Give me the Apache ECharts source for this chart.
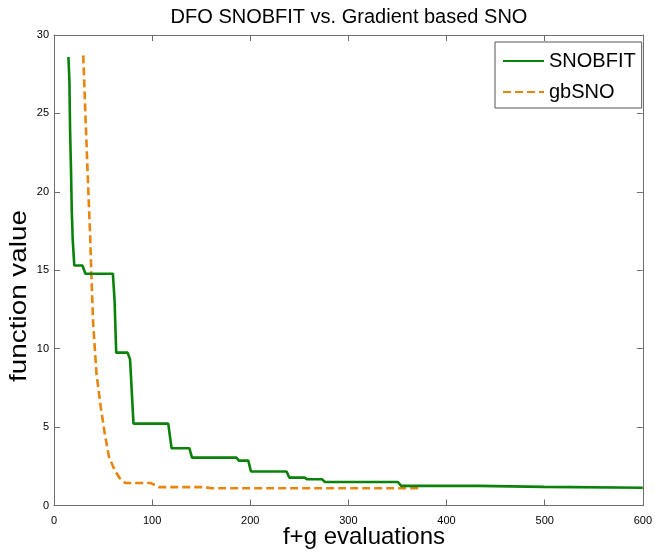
<!DOCTYPE html>
<html>
<head>
<meta charset="utf-8">
<script src="https://cdn.jsdelivr.net/npm/echarts@6/dist/echarts.min.js"></script>
<style>
  html, body { margin: 0; padding: 0; background: #fff; }
  #chart { width: 655px; height: 555px; }
</style>
</head>
<body>
<div id="chart"></div>
<script>
// Best function value found so far, plotted against the number of f+g evaluations.
const titleText = 'DFO SNOBFIT vs. Gradient based SNO';
const xAxisLabel = 'f+g evaluations';
const yAxisLabel = 'function value';
const seriesNames = ['SNOBFIT', 'gbSNO'];

const xTicks = [0, 100, 200, 300, 400, 500, 600];
const yTicks = [0, 5, 10, 15, 20, 25, 30];

// SNOBFIT: derivative-free run (evaluations, value)
const snobfitEvals = [14.7, 15.7, 16.4, 17.4, 18.1, 19.1, 20.7, 29, 32, 60, 61.7, 63.4, 75, 77.5, 81,
  116.4, 119.8, 138, 140.6, 186, 188.3, 198, 200.7, 237, 239.7, 255.4, 258, 273.2, 276,
  350.4, 353.8, 432.6, 434.3, 499, 500.5, 600];
const snobfitValues = [28.6, 27.1, 23.9, 21.2, 18.8, 16.9, 15.3, 15.3, 14.78, 14.78, 13.1, 9.75, 9.75, 9.32, 5.22,
  5.22, 3.65, 3.65, 3.05, 3.05, 2.86, 2.86, 2.17, 2.17, 1.78, 1.78, 1.67, 1.67, 1.5,
  1.5, 1.25, 1.25, 1.19, 1.19, 1.15, 1.13];

// gbSNO: gradient based run (evaluations, value)
const gbsnoEvals = [29.8, 32.2, 35.2, 36.9, 37.9, 39.9, 43.3, 47.6, 51.7, 56, 61.7, 66.8, 72.8,
  98.7, 107, 154, 160, 371.6];
const gbsnoValues = [28.7, 24.6, 19.7, 17.1, 15, 11.6, 8.4, 6.3, 4.6, 3.1, 2.27, 1.75, 1.43,
  1.43, 1.17, 1.17, 1.1, 1.1];

const FONT = "'Liberation Sans', Arial, Helvetica, sans-serif";
const pairs = (xs, ys) => xs.map((x, i) => [x, ys[i]]);

const chart = echarts.init(document.getElementById('chart'), null, { renderer: 'canvas' });

const axisLine = { show: true, onZero: false, lineStyle: { color: '#6e6e6e', width: 1 } };
const innerTick = { show: true, inside: true, length: 6, lineStyle: { color: '#6e6e6e', width: 1 } };

const xMin = xTicks[0], xMax = xTicks[xTicks.length - 1];
const xStep = xTicks[1] - xTicks[0];
const yMin = yTicks[0], yMax = yTicks[yTicks.length - 1];
const yStep = yTicks[1] - yTicks[0];

chart.setOption({
  animation: false,
  backgroundColor: '#fff',
  textStyle: { fontFamily: FONT },
  grid: { left: 54, right: 5.5, top: 35, bottom: 49.5, containLabel: false },
  legend: {
    data: seriesNames,
    orient: 'vertical',
    left: 495,
    top: 42,
    itemWidth: 41,
    itemHeight: 14,
    itemGap: 11,
    padding: [9, 6, 6, 7],
    borderColor: '#555',
    borderWidth: 1,
    backgroundColor: '#fff',
    itemStyle: { opacity: 0 },
    textStyle: { fontSize: 20, color: '#000', fontFamily: FONT }
  },
  xAxis: [
    {
      type: 'value', min: xMin, max: xMax, interval: xStep, position: 'bottom',
      axisLine, axisTick: innerTick, splitLine: { show: false },
      axisLabel: { fontSize: 11, color: '#000', margin: 10, fontFamily: FONT }
    },
    {
      type: 'value', min: xMin, max: xMax, interval: xStep, position: 'top',
      axisLine, axisTick: innerTick, splitLine: { show: false },
      axisLabel: { show: false }
    }
  ],
  yAxis: [
    {
      type: 'value', min: yMin, max: yMax, interval: yStep, position: 'left',
      axisLine, axisTick: innerTick, splitLine: { show: false },
      axisLabel: { fontSize: 11, color: '#000', margin: 5, fontFamily: FONT }
    },
    {
      type: 'value', min: yMin, max: yMax, interval: yStep, position: 'right',
      axisLine, axisTick: innerTick, splitLine: { show: false },
      axisLabel: { show: false }
    }
  ],
  series: [
    {
      name: seriesNames[0], type: 'line', xAxisIndex: 0, yAxisIndex: 0,
      data: pairs(snobfitEvals, snobfitValues),
      symbol: 'none', smooth: false,
      lineStyle: { color: '#0a820a', width: 2.6 },
      itemStyle: { color: '#0a820a' },
      z: 3
    },
    {
      name: seriesNames[1], type: 'line', xAxisIndex: 0, yAxisIndex: 0,
      data: pairs(gbsnoEvals, gbsnoValues),
      symbol: 'none', smooth: false,
      lineStyle: { color: '#e8850f', width: 2.6, type: [8, 4] },
      itemStyle: { color: '#e8850f' },
      z: 2
    }
  ],
  graphic: [
    {
      type: 'text', x: 349, y: 17,
      style: { text: titleText, fontSize: 20, fill: '#000', fontFamily: FONT, align: 'center', verticalAlign: 'middle' }
    },
    {
      type: 'text', x: 364, y: 537,
      style: { text: xAxisLabel, fontSize: 24, fill: '#000', fontFamily: FONT, align: 'center', verticalAlign: 'middle' }
    },
    {
      type: 'text', x: 19, y: 296, rotation: Math.PI / 2, scaleX: 1.16,
      style: { text: yAxisLabel, fontSize: 24, fill: '#000', fontFamily: FONT, align: 'center', verticalAlign: 'middle' }
    }
  ]
});
</script>
</body>
</html>
